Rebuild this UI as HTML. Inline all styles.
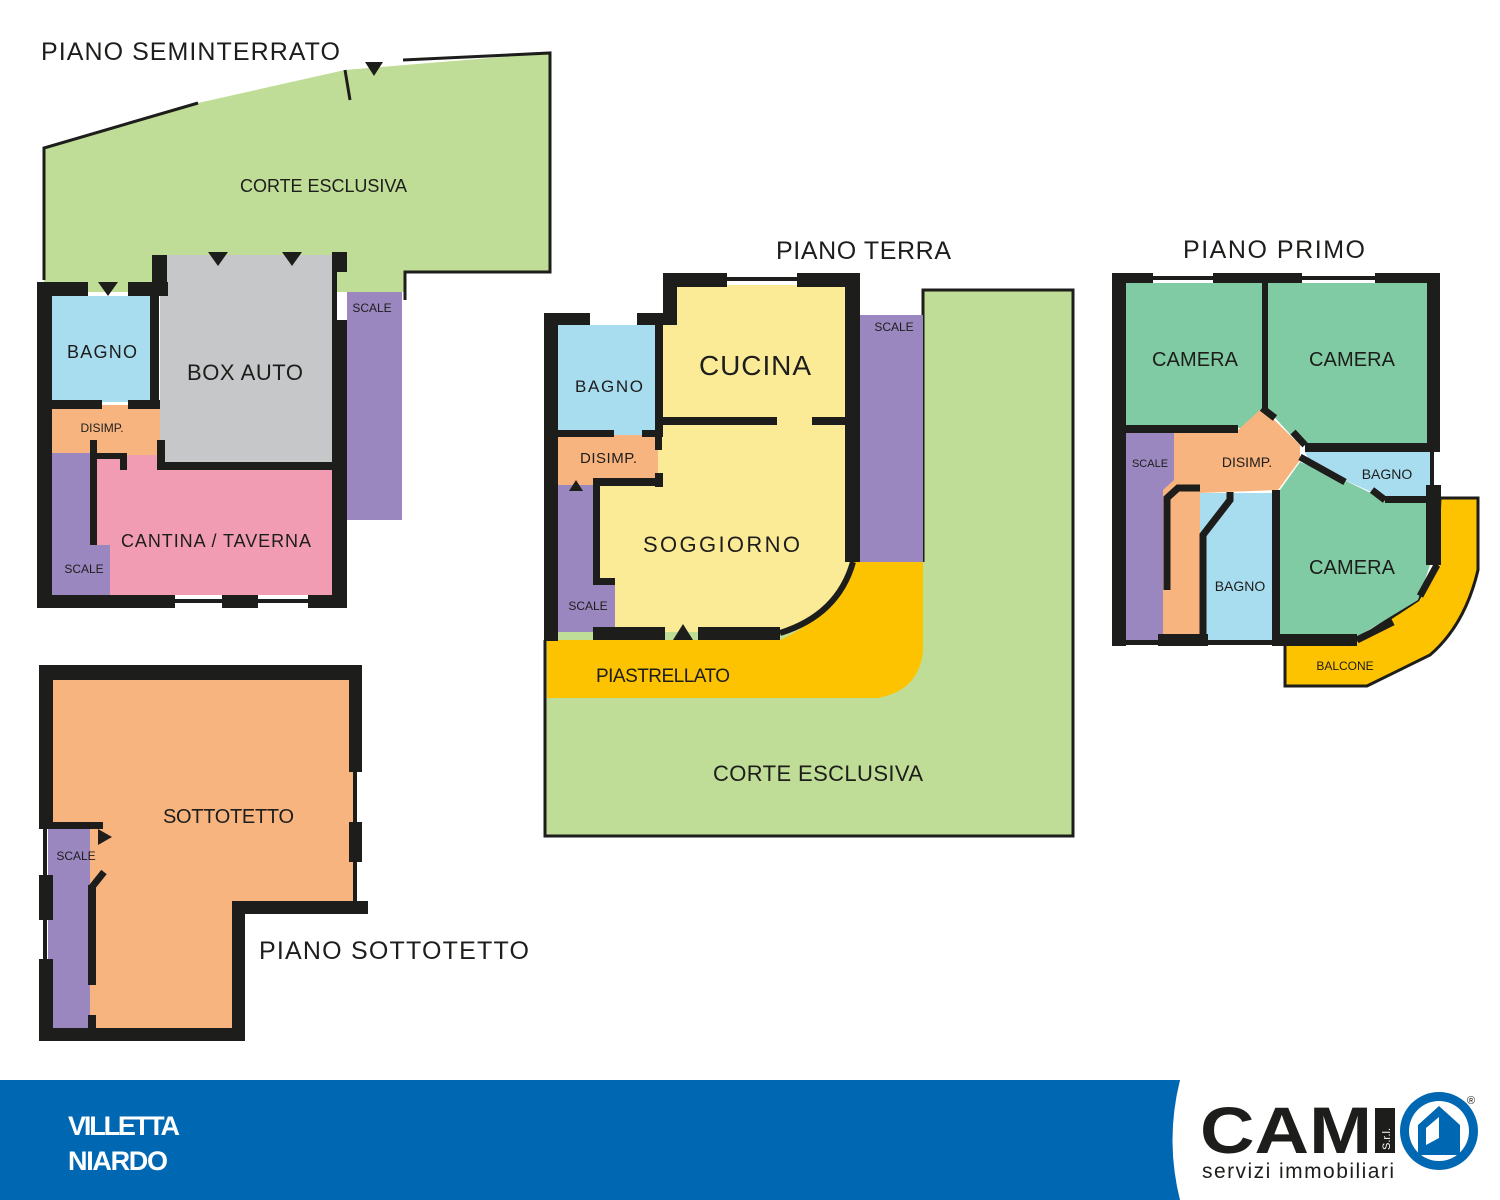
<!DOCTYPE html>
<html><head><meta charset="utf-8"><style>
html,body{margin:0;padding:0;background:#fff;}
svg{display:block;font-family:"Liberation Sans",sans-serif;}
text{fill:#1d1d1b;}
</style></head><body>
<svg width="1500" height="1200" viewBox="0 0 1500 1200" xmlns="http://www.w3.org/2000/svg">
<!-- ===== PIANO SEMINTERRATO ===== -->
<polygon points="44,148 198,103 345,70 550,53 550,272 405,272 405,292 44,292" fill="#bfdd96"/>
<path d="M44,280 V148 L198,103" fill="none" stroke="#1d1d1b" stroke-width="3"/>
<path d="M403,60 L550,53 V272 H405 V300" fill="none" stroke="#1d1d1b" stroke-width="3"/>
<line x1="345" y1="70" x2="350" y2="100" stroke="#1d1d1b" stroke-width="3"/>
<polygon points="365,62 383,62 374,76" fill="#1d1d1b"/>
<rect x="347" y="292" width="55" height="228" fill="#9b87c0"/>
<rect x="52" y="296" width="100" height="106" fill="#a8dcef"/>
<rect x="160" y="255" width="174" height="210" fill="#c6c7c8"/>
<rect x="52" y="405" width="108" height="50" fill="#f8b47f"/>
<rect x="97" y="455" width="62" height="140" fill="#f29cb4"/>
<rect x="97" y="470" width="235" height="125" fill="#f29cb4"/>
<rect x="52" y="453" width="38" height="142" fill="#9b87c0"/>
<rect x="52" y="545" width="58" height="50" fill="#9b87c0"/>
<g fill="#1d1d1b">
<rect x="37" y="282" width="15" height="326"/>
<rect x="37" y="282" width="51" height="14"/>
<rect x="128" y="282" width="40" height="14"/>
<rect x="152" y="255" width="15" height="41"/>
<rect x="150" y="296" width="9" height="106"/>
<rect x="52" y="400" width="50" height="9"/>
<rect x="128" y="400" width="32" height="9"/>
<rect x="157" y="440" width="8" height="30"/>
<rect x="157" y="462" width="177" height="8"/>
<rect x="90" y="440" width="7" height="105"/>
<rect x="90" y="453" width="35" height="6"/>
<rect x="120" y="453" width="7" height="17"/>
<rect x="332" y="252" width="15" height="20"/>
<rect x="332" y="320" width="15" height="288"/>
<rect x="332" y="252" width="5" height="70"/>
<rect x="37" y="595" width="138" height="13"/>
<rect x="222" y="595" width="36" height="13"/>
<rect x="308" y="595" width="39" height="13"/>
<rect x="175" y="599" width="47" height="4"/>
<rect x="258" y="599" width="50" height="4"/>
<polygon points="98,282 118,282 108,296"/>
<polygon points="208,252 228,252 218,266"/>
<polygon points="282,252 302,252 292,266"/>
</g>
<text x="41" y="60" font-size="25" textLength="299">PIANO SEMINTERRATO</text>
<text x="240" y="192" font-size="18" textLength="167">CORTE ESCLUSIVA</text>
<text x="67" y="358" font-size="18" textLength="70">BAGNO</text>
<text x="187" y="380" font-size="22" textLength="116">BOX AUTO</text>
<text x="102" y="432" font-size="12" text-anchor="middle">DISIMP.</text>
<text x="121" y="547" font-size="18" textLength="190">CANTINA / TAVERNA</text>
<text x="84" y="573" font-size="12" text-anchor="middle">SCALE</text>
<text x="372" y="312" font-size="12" text-anchor="middle">SCALE</text>

<!-- ===== PIANO TERRA ===== -->
<path d="M923,290 H1073 V836 H545 V560 H923 Z" fill="#bfdd96"/>
<path d="M923,562 V290 H1073 V836 H545 V640" fill="none" stroke="#1d1d1b" stroke-width="3"/>
<rect x="858" y="315" width="65" height="247" fill="#9b87c0"/>
<path d="M547,640 H780 Q835,615 853,562 H923 V650 Q920,690 878,698 H547 Z" fill="#fdc300"/>
<rect x="558" y="325" width="100" height="110" fill="#a8dcef"/>
<rect x="663" y="285" width="190" height="137" fill="#fbeb97"/>
<rect x="558" y="435" width="100" height="50" fill="#f8b47f"/>
<rect x="558" y="485" width="57" height="147" fill="#9b87c0"/>
<path d="M658,420 H853 V562 Q835,615 780,632 H615 V585 H598 V482 H658 Z" fill="#fbeb97"/>
<g fill="#1d1d1b">
<rect x="544" y="313" width="14" height="328"/>
<rect x="544" y="313" width="46" height="12"/>
<rect x="637" y="313" width="40" height="12"/>
<rect x="663" y="273" width="14" height="52"/>
<rect x="663" y="273" width="64" height="14"/>
<rect x="797" y="273" width="63" height="14"/>
<rect x="727" y="277" width="70" height="4"/>
<rect x="845" y="273" width="15" height="289"/>
<rect x="655" y="325" width="8" height="110"/>
<rect x="663" y="417" width="114" height="8"/>
<rect x="812" y="417" width="38" height="8"/>
<rect x="558" y="430" width="56" height="7"/>
<rect x="642" y="430" width="21" height="7"/>
<rect x="655" y="430" width="7" height="20"/>
<rect x="655" y="473" width="8" height="14"/>
<rect x="593" y="478" width="70" height="8"/>
<rect x="593" y="478" width="7" height="107"/>
<rect x="593" y="578" width="22" height="7"/>
<rect x="593" y="627" width="72" height="13"/>
<rect x="698" y="627" width="82" height="13"/>
<polygon points="673,640 693,640 683,624"/>
<polygon points="569,491 583,491 576,480"/>
</g>
<path d="M780,633 Q838,615 853,562" fill="none" stroke="#1d1d1b" stroke-width="6"/>
<text x="776" y="259" font-size="25" textLength="175">PIANO TERRA</text>
<text x="894" y="331" font-size="12" text-anchor="middle">SCALE</text>
<text x="699" y="375" font-size="28" textLength="112">CUCINA</text>
<text x="575" y="392" font-size="17" textLength="68">BAGNO</text>
<text x="580" y="463" font-size="15" textLength="57">DISIMP.</text>
<text x="643" y="552" font-size="22" textLength="157">SOGGIORNO</text>
<text x="588" y="610" font-size="12" text-anchor="middle">SCALE</text>
<text x="596" y="682" font-size="19" textLength="134">PIASTRELLATO</text>
<text x="713" y="781" font-size="22" textLength="210">CORTE ESCLUSIVA</text>

<!-- ===== PIANO PRIMO ===== -->
<path d="M1440,498 H1478 V570 Q1465,625 1430,655 L1367,686 H1285 V640 H1357 L1418,600 L1437,565 Z" fill="#fdc300" stroke="#1d1d1b" stroke-width="3"/>
<rect x="1126" y="283" width="138" height="145" fill="#80cba3"/>
<polygon points="1268,283 1427,283 1427,445 1300,445 1268,410" fill="#80cba3"/>
<rect x="1126" y="430" width="48" height="210" fill="#9b87c0"/>
<polygon points="1174,430 1238,430 1262,408 1300,445 1300,460 1278,490 1200,493 1200,640 1163,640 1163,490 1174,480" fill="#f8b47f"/>
<polygon points="1305,452 1430,452 1430,498 1385,498 1340,478 1310,462" fill="#a8dcef"/>
<rect x="1200" y="493" width="75" height="147" fill="#a8dcef"/>
<polygon points="1280,490 1300,462 1340,478 1385,500 1430,500 1430,565 1418,600 1357,637 1280,637" fill="#80cba3"/>
<g fill="#1d1d1b">
<rect x="1112" y="273" width="14" height="373"/>
<rect x="1112" y="273" width="41" height="10"/>
<rect x="1213" y="273" width="89" height="10"/>
<rect x="1375" y="273" width="65" height="10"/>
<rect x="1153" y="276" width="60" height="4"/>
<rect x="1302" y="276" width="73" height="4"/>
<rect x="1427" y="273" width="13" height="177"/>
<rect x="1262" y="283" width="6" height="128"/>
<rect x="1126" y="425" width="112" height="8"/>
<rect x="1305" y="443" width="135" height="9"/>
<rect x="1426" y="485" width="15" height="80"/>
<rect x="1430" y="452" width="4" height="35"/>
<rect x="1385" y="496" width="45" height="7"/>
<rect x="1158" y="634" width="50" height="12"/>
<rect x="1272" y="634" width="85" height="12"/>
<rect x="1126" y="640" width="160" height="5"/>
<rect x="1272" y="490" width="8" height="150"/>
</g>
<g fill="none" stroke="#1d1d1b" stroke-width="7">
<path d="M1262,408 L1275,418"/>
<path d="M1293,432 L1305,445"/>
<path d="M1300,457 L1345,482"/>
<path d="M1372,490 L1385,500"/>
<path d="M1200,488 L1178,488 L1167,498 V590"/>
<path d="M1230,492 V500 L1203,535 V640"/>
<path d="M1437,565 L1420,596"/>
<path d="M1393,622 L1357,640"/>
</g>
<text x="1183" y="258" font-size="25" textLength="182">PIANO PRIMO</text>
<text x="1152" y="366" font-size="20" textLength="86">CAMERA</text>
<text x="1309" y="366" font-size="20" textLength="86">CAMERA</text>
<text x="1150" y="467" font-size="11" text-anchor="middle">SCALE</text>
<text x="1247" y="467" font-size="14" text-anchor="middle">DISIMP.</text>
<text x="1387" y="479" font-size="14" text-anchor="middle">BAGNO</text>
<text x="1240" y="591" font-size="14" text-anchor="middle">BAGNO</text>
<text x="1309" y="574" font-size="20" textLength="86">CAMERA</text>
<text x="1345" y="670" font-size="12" text-anchor="middle">BALCONE</text>

<!-- ===== PIANO SOTTOTETTO ===== -->
<polygon points="53,680 355,680 355,901 232,901 232,1028 90,1028 90,880 53,880" fill="#f8b47f"/>
<rect x="48" y="827" width="42" height="201" fill="#9b87c0"/>
<g fill="#1d1d1b">
<rect x="39" y="665" width="323" height="15"/>
<rect x="39" y="665" width="14" height="162"/>
<rect x="349" y="665" width="13" height="107"/>
<rect x="353" y="772" width="4" height="50"/>
<rect x="349" y="822" width="13" height="40"/>
<rect x="353" y="862" width="4" height="40"/>
<rect x="232" y="901" width="136" height="13"/>
<rect x="232" y="901" width="13" height="140"/>
<rect x="39" y="1028" width="206" height="13"/>
<rect x="39" y="875" width="14" height="45"/>
<rect x="39" y="959" width="14" height="82"/>
<rect x="43" y="827" width="4" height="48"/>
<rect x="43" y="920" width="4" height="39"/>
<rect x="39" y="822" width="64" height="7"/>
<rect x="88" y="885" width="8" height="100"/>
<rect x="88" y="1015" width="8" height="15"/>
<polygon points="98,829 112,837 98,845"/>
</g>
<path d="M92,887 L104,872" stroke="#1d1d1b" stroke-width="7"/>
<text x="163" y="823" font-size="20" textLength="131">SOTTOTETTO</text>
<text x="76" y="860" font-size="12" text-anchor="middle">SCALE</text>
<text x="259" y="959" font-size="25" textLength="270">PIANO SOTTOTETTO</text>

<!-- ===== FOOTER ===== -->
<rect x="0" y="1080" width="1500" height="120" fill="#0068b3"/>
<path d="M1180,1080 Q1165,1140 1180,1200 H1500 V1080 Z" fill="#fff"/>
<text x="68" y="1135" font-size="27" font-weight="bold" textLength="112" style="fill:#fff">VILLETTA</text>
<text x="68" y="1170" font-size="27" font-weight="bold" textLength="100" style="fill:#fff">NIARDO</text>
<text x="1200" y="1153" font-size="66" font-weight="bold" textLength="172" lengthAdjust="spacingAndGlyphs" style="fill:#1d1d1b">CAM</text>
<rect x="1375" y="1108" width="20" height="45" fill="#1d1d1b"/>
<text x="1390" y="1150" font-size="11" transform="rotate(-90 1390 1150)" style="fill:#fff">S.r.l.</text>
<text x="1202" y="1178" font-size="21" textLength="192" style="fill:#1d1d1b">servizi immobiliari</text>
<circle cx="1439" cy="1131" r="39" fill="#0068b3"/>
<circle cx="1439" cy="1131" r="30" fill="#fff"/>
<polygon points="1418,1125 1439,1106 1460,1125 1460,1155 1418,1155" fill="#0068b3"/>
<polygon points="1426,1128 1439,1117 1439,1138 1426,1145" fill="#fff"/>
<text x="1471" y="1104" font-size="11" text-anchor="middle" style="fill:#1d1d1b">®</text>
</svg>
</body></html>
